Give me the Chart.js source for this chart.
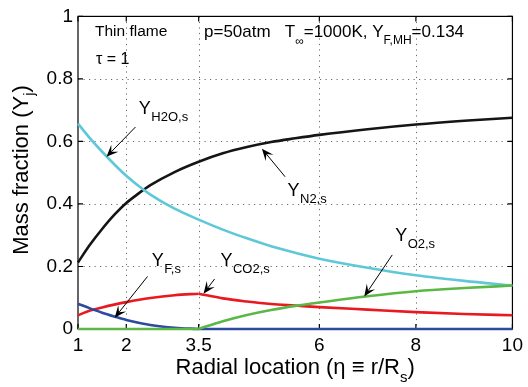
<!DOCTYPE html>
<html>
<head>
<meta charset="utf-8">
<script src="https://cdn.jsdelivr.net/npm/chart.js@4/dist/chart.umd.min.js"></script>
<style>
html,body{margin:0;padding:0;background:#fff;}
#c{display:block;}
</style>
</head>
<body>
<canvas id="c" width="528" height="387"></canvas>
<script>
// ---- data ----
const eta    = [1, 1.25, 1.5, 1.75, 2, 2.25, 2.5, 3, 3.5, 4, 4.5, 5, 5.5, 6, 7, 8, 9, 10];
const yN2    = [0.213, 0.27, 0.32, 0.365, 0.403, 0.433, 0.46, 0.502, 0.535, 0.562, 0.582, 0.598, 0.61, 0.621, 0.639, 0.654, 0.666, 0.676];
const yH2O   = [0.657, 0.61, 0.567, 0.527, 0.49, 0.458, 0.43, 0.385, 0.35, 0.318, 0.29, 0.265, 0.244, 0.225, 0.196, 0.172, 0.154, 0.139];

const etaIn  = [1, 1.25, 1.5, 1.75, 2, 2.5, 3, 3.5];
const yCO2In = [0.044, 0.059, 0.069, 0.078, 0.086, 0.099, 0.108, 0.113];
const yFIn   = [0.081, 0.066, 0.052, 0.04, 0.029, 0.013, 0.004, 0];
const yO2In  = [0, 0, 0, 0, 0, 0, 0, 0];

const etaOut  = [3.5, 4, 4.5, 5, 5.5, 6, 7, 8, 9, 10];
const yCO2Out = [0.113, 0.098, 0.088, 0.08, 0.075, 0.07, 0.062, 0.054, 0.048, 0.044];
const yO2Out  = [0, 0.025, 0.045, 0.061, 0.074, 0.085, 0.105, 0.121, 0.131, 0.139];
const yFOut   = [0, 0, 0, 0, 0, 0, 0, 0, 0, 0];

const xTicks = [1, 2, 3.5, 6, 8, 10];
const yTicks = [0, 0.2, 0.4, 0.6, 0.8, 1];

// annotation labels: [text, subscript, labelX, labelY, tailX, tailY, tipX, tipY] in data units
const notes = [
  ['Y', 'H2O,s', 2.26, 0.687, 2.19, 0.646, 1.59, 0.551],
  ['Y', 'N2,s',  5.34, 0.424, 5.29, 0.487, 4.81, 0.577],
  ['Y', 'F,s',   2.53, 0.203, 2.44, 0.168, 1.76, 0.036],
  ['Y', 'CO2,s', 3.95, 0.203, 3.83, 0.160, 3.6, 0.113],
  ['Y', 'O2,s',  7.57, 0.282, 7.51, 0.237, 6.93, 0.104]
];

const COL = {n2:'#151515', h2o:'#5ec8d8', co2:'#e8191f', o2:'#5bb846', f:'#2c4a9e'};
const FONT = '"Liberation Sans", Arial, Helvetica, sans-serif';

function pts(xs, ys){ return xs.map((x,i)=>({x:x, y:ys[i]})); }
function ds(xs, ys, color, order){
  return {data: pts(xs, ys), borderColor: color, borderWidth: 2.6, pointRadius: 0,
          fill: false, cubicInterpolationMode: 'monotone', order: order, clip: 4};
}

const frame = {
  id: 'frame',
  beforeDatasetsDraw(chart){
    const {ctx, chartArea: a, scales:{x, y}} = chart;
    ctx.save();
    ctx.strokeStyle = '#6a6a6a';
    ctx.lineWidth = 1;
    ctx.setLineDash([1.2, 4.3]);
    xTicks.forEach(v=>{
      if (v === 1 || v === 10) return;
      const px = Math.round(x.getPixelForValue(v)) + 0.5;
      ctx.beginPath(); ctx.moveTo(px, a.top); ctx.lineTo(px, a.bottom); ctx.stroke();
    });
    yTicks.forEach(v=>{
      if (v === 0 || v === 1) return;
      const py = Math.round(y.getPixelForValue(v)) + 0.5;
      ctx.beginPath(); ctx.moveTo(a.left, py); ctx.lineTo(a.right, py); ctx.stroke();
    });
    ctx.strokeStyle = '#000';
    ctx.lineWidth = 1.2;
    ctx.setLineDash([]);
    ctx.strokeRect(a.left, a.top, a.right - a.left, a.bottom - a.top);
    const tl = 5;
    xTicks.forEach(v=>{
      const px = x.getPixelForValue(v);
      ctx.beginPath();
      ctx.moveTo(px, a.bottom); ctx.lineTo(px, a.bottom - tl);
      ctx.moveTo(px, a.top); ctx.lineTo(px, a.top + tl);
      ctx.stroke();
    });
    yTicks.forEach(v=>{
      const py = y.getPixelForValue(v);
      ctx.beginPath();
      ctx.moveTo(a.left, py); ctx.lineTo(a.left + tl, py);
      ctx.moveTo(a.right, py); ctx.lineTo(a.right - tl, py);
      ctx.stroke();
    });
    ctx.restore();
  },
  afterDatasetsDraw(chart){
    const {ctx, scales:{x, y}} = chart;
    ctx.save();
    ctx.fillStyle = '#000';
    ctx.textBaseline = 'alphabetic';
    ctx.textAlign = 'left';
    notes.forEach(n=>{
      const lx = x.getPixelForValue(n[2]), ly = y.getPixelForValue(n[3]);
      ctx.font = '18px ' + FONT;
      ctx.fillText(n[0], lx, ly);
      const w = ctx.measureText(n[0]).width;
      ctx.font = '13px ' + FONT;
      ctx.fillText(n[1], lx + w + 0.5, ly + 7);
      const tx = x.getPixelForValue(n[4]), ty = y.getPixelForValue(n[5]);
      const hx = x.getPixelForValue(n[6]), hy = y.getPixelForValue(n[7]);
      arrow(ctx, tx, ty, hx, hy);
    });
    ctx.restore();
  },
  afterDraw(chart){
    const {ctx, chartArea: a} = chart;
    ctx.save();
    ctx.fillStyle = '#000';
    ctx.textBaseline = 'alphabetic';
    ctx.textAlign = 'left';
    ctx.font = '15.5px ' + FONT;
    ctx.fillText('Thin flame', 95, 36);
    ctx.font = '16px ' + FONT;
    ctx.fillText('\u03C4 = 1', 96, 64);
    runs(ctx, 204, 37, [
      ['p=50atm   T', 17, 0], ['\u221E', 12, 8], ['=1000K, Y', 17, 0], ['F,MH', 12, 7], ['=0.134', 17, 0]
    ]);
    const xr = [['Radial location (\u03B7 \u2261 r/R', 22, 0], ['s', 15, 8], [')', 22, 0]];
    const xw = runsWidth(ctx, xr);
    runs(ctx, (a.left + a.right)/2 - xw/2, 374, xr);
    const yr = [['Mass fraction (Y', 22, 0], ['j', 15, 6], [')', 22, 0]];
    const yw = runsWidth(ctx, yr);
    ctx.translate(28, 170);
    ctx.rotate(-Math.PI/2);
    runs(ctx, -yw/2, 0, yr);
    ctx.restore();
  }
};

function runsWidth(ctx, parts){
  let w = 0;
  parts.forEach(p=>{ ctx.font = p[1] + 'px ' + FONT; w += ctx.measureText(p[0]).width; });
  return w;
}
function runs(ctx, x0, y0, parts){
  let xx = x0;
  parts.forEach(p=>{
    ctx.font = p[1] + 'px ' + FONT;
    ctx.fillText(p[0], xx, y0 + p[2]);
    xx += ctx.measureText(p[0]).width;
  });
}
function arrow(ctx, x1, y1, x2, y2){
  const dx = x2 - x1, dy = y2 - y1, L = Math.hypot(dx, dy);
  const ux = dx / L, uy = dy / L, nx = -uy, ny = ux;
  const hl = 12, hw = 5, notch = 7;
  ctx.save();
  ctx.strokeStyle = '#000'; ctx.lineWidth = 1;
  ctx.beginPath(); ctx.moveTo(x1, y1); ctx.lineTo(x2 - ux*notch, y2 - uy*notch); ctx.stroke();
  ctx.beginPath();
  ctx.moveTo(x2, y2);
  ctx.lineTo(x2 - ux*hl + nx*hw, y2 - uy*hl + ny*hw);
  ctx.lineTo(x2 - ux*notch, y2 - uy*notch);
  ctx.lineTo(x2 - ux*hl - nx*hw, y2 - uy*hl - ny*hw);
  ctx.closePath();
  ctx.fillStyle = '#000';
  ctx.fill();
  ctx.restore();
}

new Chart(document.getElementById('c'), {
  type: 'line',
  data: {
    datasets: [
      ds(etaIn,  yO2In,   COL.o2, 0),
      ds(etaOut, yO2Out,  COL.o2, 0),
      ds(etaIn,  yFIn,    COL.f,  1),
      ds(etaOut, yFOut,   COL.f,  1),
      ds(etaIn,  yCO2In,  COL.co2, 2),
      ds(etaOut, yCO2Out, COL.co2, 2),
      ds(eta,    yH2O,    COL.h2o, 3),
      ds(eta,    yN2,     COL.n2,  4)
    ]
  },
  options: {
    responsive: false,
    animation: false,
    events: [],
    layout: {padding: {top: 13, right: 11.5, left: 0, bottom: 0}},
    plugins: {legend: {display: false}, tooltip: {enabled: false}, title: {display: false}},
    scales: {
      x: {
        type: 'linear', min: 1, max: 10,
        afterBuildTicks: s => { s.ticks = xTicks.map(v => ({value: v})); },
        afterFit: s => { s.height = 58; },
        grid: {display: false, drawTicks: false},
        border: {display: false},
        ticks: {color: '#000', font: {family: FONT, size: 19}, padding: 5, maxRotation: 0, autoSkip: false,
                callback: v => String(v)}
      },
      y: {
        type: 'linear', min: 0, max: 1,
        afterBuildTicks: s => { s.ticks = yTicks.map(v => ({value: v})); },
        afterFit: s => { s.width = 78; },
        grid: {display: false, drawTicks: false},
        border: {display: false},
        ticks: {color: '#000', font: {family: FONT, size: 19}, padding: 5,
                callback: v => String(v)}
      }
    }
  },
  plugins: [frame]
});
</script>
</body>
</html>
